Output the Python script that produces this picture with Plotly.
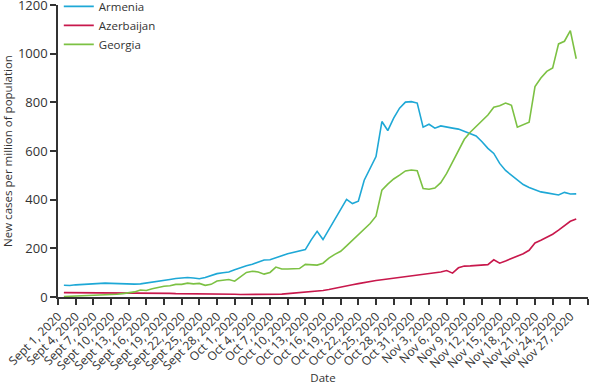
import pandas as pd
import plotly.graph_objects as go

dates = pd.date_range("2020-09-02", periods=88, freq="D")

armenia = [48, 47, 50, 52, 53, 54, 56, 57, 56, 55, 54, 54, 53, 54, 57, 60, 64, 68, 72, 76,
           79, 80, 78, 75, 80, 88, 96, 100, 103, 112, 121, 128, 135, 142, 152, 153, 160, 170, 178, 183,
           188, 195, 235, 270, 236, 278, 320, 362, 401, 384, 394, 480, 530, 577, 721, 684, 735, 776, 801, 803,
           797, 698, 710, 694, 703, 700, 694, 690, 680, 673, 662, 638, 611, 590, 549, 520, 500, 480, 462, 450,
           440, 432, 428, 422, 419, 430, 423, 424]

azerbaijan = [18, 18, 18, 17, 17, 17, 17, 17, 16, 16, 16, 16, 16, 16, 15, 15, 15, 15, 15, 14,
              14, 14, 14, 14, 13, 13, 12, 12, 11, 11, 10, 10, 10, 10, 10, 10, 11, 12, 14, 16,
              19, 21, 23, 24, 27, 31, 35, 40, 45, 50, 55, 60, 64, 68, 71, 74, 77, 79, 82, 86,
              89, 92, 95, 99, 103, 109, 98, 120, 127, 128, 129, 131, 133, 153, 139, 148, 157, 167, 178, 192,
              222, 233, 244, 258, 275, 293, 311, 321]

georgia = [2, 3, 3, 4, 5, 6, 7, 8, 9, 11, 14, 17, 21, 29, 27, 34, 40, 44, 46, 52,
           52, 57, 54, 56, 48, 52, 66, 70, 72, 65, 85, 101, 106, 103, 94, 101, 123, 115, 115, 116,
           117, 134, 132, 131, 139, 160, 175, 188, 210, 233, 256, 279, 302, 332, 439, 464, 485, 501, 518, 522,
           519, 446, 443, 448, 470, 508, 556, 604, 648, 677, 700, 725, 748, 780, 786, 797, 788, 698, 708, 718,
           865, 900, 927, 941, 1040, 1051, 1095, 979]

tick_dates = pd.date_range("2020-09-01", "2020-11-30", freq="3D")
tick_labels = ["Sept 1, 2020", "Sept 4, 2020", "Sept 7, 2020", "Sept 10, 2020", "Sept 13, 2020",
               "Sept 16, 2020", "Sept 19, 2020", "Sept 22, 2020", "Sept 25, 2020", "Sept 28, 2020",
               "Oct 1, 2020", "Oct 4, 2020", "Oct 7, 2020", "Oct 10, 2020", "Oct 13, 2020",
               "Oct 16, 2020", "Oct 19, 2020", "Oct 22, 2020", "Oct 25, 2020", "Oct 28, 2020",
               "Oct 31, 2020", "Nov 3, 2020", "Nov 6, 2020", "Nov 9, 2020", "Nov 12, 2020",
               "Nov 15, 2020", "Nov 18, 2020", "Nov 21, 2020", "Nov 24, 2020", "Nov 27, 2020", ""]

y_ticks = [0, 200, 400, 600, 800, 1000, 1200]

series = [("Armenia", armenia, "#1ea8d6"),
          ("Azerbaijan", azerbaijan, "#c8184c"),
          ("Georgia", georgia, "#7cc143")]

fig = go.Figure()
for name, vals, col in series:
    fig.add_trace(go.Scatter(x=dates, y=vals, mode="lines", name=name,
                             line=dict(color=col, width=1.6)))

font = "Open Sans, Noto Sans, sans-serif"
fig.update_layout(
    width=590, height=385,
    margin=dict(l=58, r=2, t=5, b=88, autoexpand=False),
    paper_bgcolor="white", plot_bgcolor="white",
    font=dict(family=font, size=12, color="#333333"),
    showlegend=True,
    legend=dict(x=0.0015, y=1.045, xanchor="left", yanchor="top",
                bgcolor="rgba(0,0,0,0)", font=dict(size=11.5, color="#333333"),
                tracegroupgap=0),
    xaxis=dict(
        range=[pd.Timestamp("2020-09-01"), pd.Timestamp("2020-11-30")],
        tickmode="array", tickvals=list(tick_dates), ticktext=tick_labels,
        tickangle=-45, ticks="outside", ticklen=6, tickwidth=1.5, tickcolor="#333333",
        showline=True, linecolor="#333333", linewidth=1.5,
        showgrid=False, zeroline=False, ticklabeloverflow="allow",
        tickfont=dict(size=12),
        title=dict(text="Date", font=dict(size=11.5), standoff=2),
    ),
    yaxis=dict(
        range=[0, 1200], tickmode="array", tickvals=y_ticks,
        ticks="outside", ticklen=6, tickwidth=1.5, tickcolor="#333333",
        showline=True, linecolor="#333333", linewidth=1.5,
        showgrid=False, zeroline=False, ticklabeloverflow="allow",
        tickfont=dict(size=13),
        title=dict(text="New cases per million of population", font=dict(size=11.5), standoff=11),
    ),
)

fig.write_html("out.html", config={"displayModeBar": False},
               post_script="document.body.style.margin='0px';")
